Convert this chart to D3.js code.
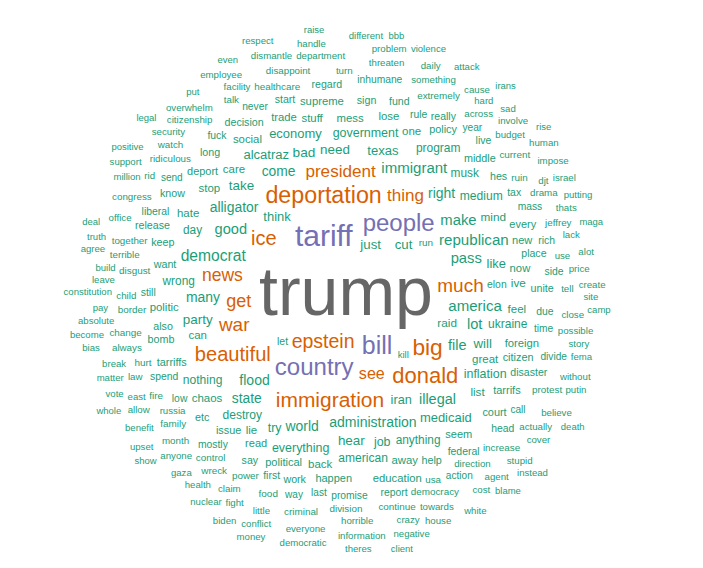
<!DOCTYPE html>
<html><head><meta charset="utf-8">
<script src="https://cdn.jsdelivr.net/npm/d3@7"></script>
<style>html,body{margin:0;padding:0;background:#fff;overflow:hidden}</style>
</head><body>
<script>
const words = [
"trump","tariff","bill","country","people","deportation","big","donald","immigration","beautiful",
"ice","epstein","much","war","get","news","president","thing","see","democrat",
"republican","america","immigrant","make","pass","good","lot","file","illegal","administration",
"flood","world","alligator","right","many","come","state","bad","hear","take",
"need","party","cut","will","just","texas","alcatraz","medicaid","economy","think",
"like","iran","inflation","job","government","everything","try","american","destroy","medium",
"nothing","program","ukraine","wrong","musk","anything","day","mind","raid","ive",
"list","great","can","lie","care","chaos","stop","feel","hate","one",
"back","stuff","away","social","mess","politic","lose","now","trade","foreign",
"supreme","education","seem","read","new","political","every","happen","deport","tarrifs",
"tarriffs","policy","citizen","issue","court","bomb","want","help","keep","middle",
"etc","sign","work","long","hes","know","also","release","decision","unite",
"say","fund","place","start","disaster","regard","really","federal","still","let",
"first","live","tax","low","elon","mostly","side","due","spend","head",
"rule","fuck","report","liberal","rich","promise","never","mass","inhumane","year",
"time","divide","call","last","action","way","send","food","talk","tell",
"site","together","jeffrey","always","disgust","democracy","control","extremely","division","power",
"ridiculous","claim","increase","family","healthcare","terrible","wreck","turn","month","hurt",
"current","ruin","run","continue","child","drama","watch","usa","fire","protest",
"change","border","congress","threaten","close","department","something","horrible","facility","budget",
"health","white","use","direction","conflict","break","sad","benefit","camp","fema",
"pay","east","matter","leave","negative","russia","gaza","theres","vote","million",
"democratic","law","kill","build","nuclear","put","become","support","handle","upset",
"different","putting","agree","attack","irans","blame","bias","raise","rise","absolute",
"deal","bbb","maga","positive","death","money","show","even","client","legal",
"hard","constitution","violence","whole","biden","truth","instead","respect","possible","security",
"rid","djt","cause","price","overwhelm","believe","actually","impose","thats","little",
"without","lack","office","criminal","disappoint","stupid","towards","daily","agent","problem",
"involve","crazy","across","israel","story","allow","alot","everyone","human","cover",
"fight","create","cost","anyone","house","citizenship","employee","putin","information","dismantle"
];
const counts = [
600,217,166,157,156,149,144,136,126,117,
116,111,106,105,96,91,87,86,77,72,
67,66,66,64,63,62,62,60,60,56,
56,55,55,55,55,54,54,52,50,50,
50,50,48,48,48,46,46,45,45,45,
44,43,40,40,40,40,39,36,36,36,
36,35,35,34,34,34,34,33,33,33,
32,30,30,30,30,30,30,30,30,30,
30,29,29,29,29,29,29,28,28,28,
28,28,26,26,26,26,25,25,25,25,
24,24,24,24,24,23,23,23,23,23,
23,22,22,22,22,22,22,22,22,22,
21,21,21,21,21,21,20,20,20,20,
20,20,20,19,19,19,19,19,19,19,
19,19,19,19,19,18,18,18,18,17,
17,17,16,16,16,16,16,15,12,12,
11,13,13,13,14,14,14,14,14,14,
13,13,14,14,14,13,14,13,13,14,
14,14,14,14,13,13,13,13,14,14,
14,14,13,12,12,12,12,12,12,12,
11,11,12,12,11,11,11,11,11,11,
11,11,11,11,11,12,11,11,11,11,
11,12,11,11,11,11,11,11,11,11,
11,11,11,11,10,10,11,10,10,11,
10,10,10,10,10,11,10,10,10,10,
10,11,11,10,11,11,11,11,12,12,
12,12,12,12,12,12,12,12,12,12,
12,12,12,14,13,12,12,12,12,12,
12,12,13,12,12,12,12,12,12,12,
12,12,12,12,12,13,12,12,12,12
];

const W = 703, H = 568;
const FONT = "'Liberation Sans', Arial, Helvetica, sans-serif";
const maxCount = d3.max(counts);
const fontSize = d3.scaleLinear().domain([0, maxCount]).range([8.5, 68]);
const color = d3.scaleQuantize().domain([0, maxCount]).range(d3.schemeDark2);

const data = words.map((w, i) => ({text: w, count: counts[i]}))
  .sort((a, b) => b.count - a.count);

const ctx = document.createElement("canvas").getContext("2d");
const CELL = 20, grid = new Map();
function cellsOf(b) {
  const out = [];
  for (let gx = Math.floor(b.x0 / CELL); gx <= Math.floor(b.x1 / CELL); gx++)
    for (let gy = Math.floor(b.y0 / CELL); gy <= Math.floor(b.y1 / CELL); gy++)
      out.push(gx + "," + gy);
  return out;
}
function collides(b) {
  for (const key of cellsOf(b)) {
    const list = grid.get(key);
    if (!list) continue;
    for (const o of list)
      if (b.x0 < o.x1 && b.x1 > o.x0 && b.y0 < o.y1 && b.y1 > o.y0) return true;
  }
  return false;
}
function add(b) {
  for (const key of cellsOf(b)) {
    if (!grid.has(key)) grid.set(key, []);
    grid.get(key).push(b);
  }
}

const cx = 346, cy = 291;
const thetaStep = 0.1, rPerRev = 26, padX = 1.6, padY = 0.5;
const placed = [];
data.forEach((d, i) => {
  const fs = fontSize(d.count);
  ctx.font = fs + "px " + FONT;
  const w = ctx.measureText(d.text).width;
  // full em box of the font (ascent + descent), as the browser lays text out
  const asc = fs * 0.905, desc = fs * 0.212;
  const h = asc + desc;
  let theta = i * 2.399963, r = 0;
  for (let k = 0; k < 80000; k++) {
    const x = cx + r * Math.cos(theta), y = cy + r * Math.sin(theta);
    const b = {x0: x - w / 2 - padX, y0: y - h / 2 - padY, x1: x + w / 2 + padX, y1: y + h / 2 + padY};
    if (b.x0 >= 2 && b.x1 <= W - 2 && b.y0 >= 2 && b.y1 <= H - 2 && !collides(b)) {
      add(b);
      placed.push({text: d.text, count: d.count, fs, x, y: y - h / 2 + asc});
      break;
    }
    theta += thetaStep;
    r += rPerRev * thetaStep / (2 * Math.PI);
  }
});

const svg = d3.select("body").append("svg")
  .attr("width", W).attr("height", H)
  .style("font-family", FONT);

svg.selectAll("text").data(placed).join("text")
  .attr("x", d => d.x)
  .attr("y", d => d.y)
  .attr("text-anchor", "middle")
  .attr("font-size", d => d.fs + "px")
  .attr("fill", d => color(d.count))
  .text(d => d.text);
</script>
</body></html>
